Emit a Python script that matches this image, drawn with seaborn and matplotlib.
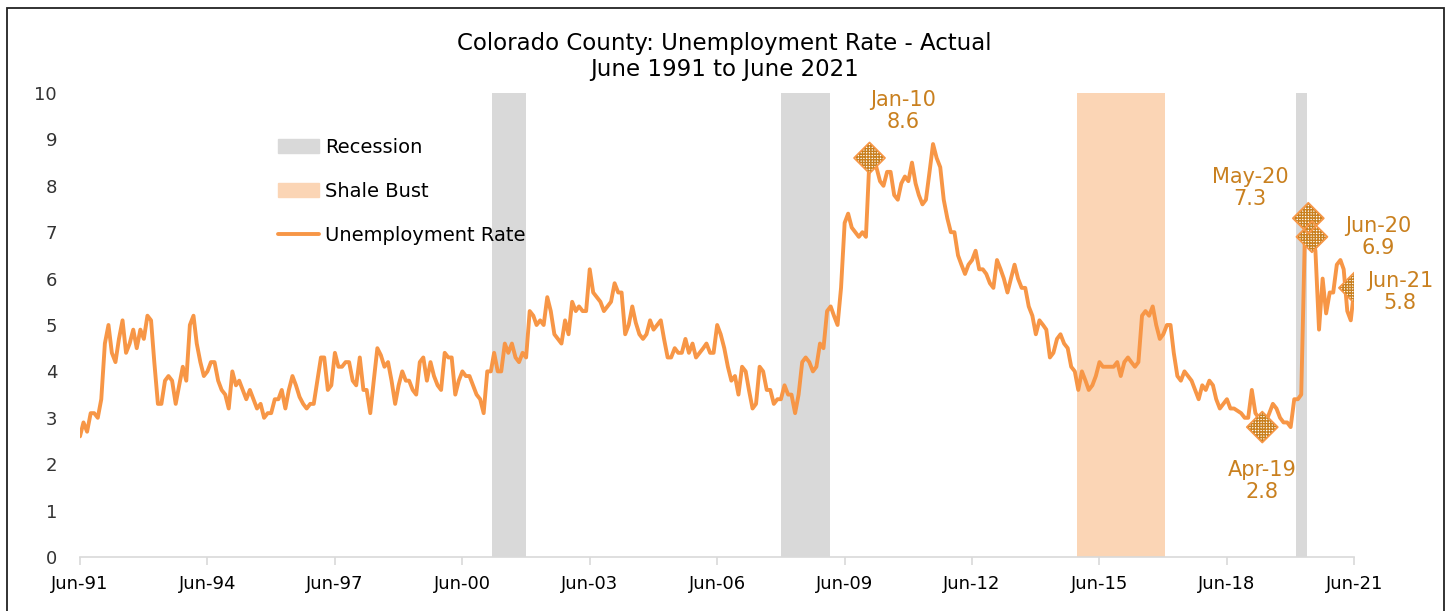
import matplotlib
matplotlib.use("Agg")
import matplotlib.pyplot as plt
import matplotlib.dates as mdates
from matplotlib.patches import Patch, Rectangle
from matplotlib.lines import Line2D
import seaborn as sns
import pandas as pd

# monthly unemployment rate, Jun-91 .. Jun-21 (one row per Jun..May year)
rate = [
    2.6, 2.9, 2.7, 3.1, 3.1, 3.0, 3.4, 4.6, 5.0, 4.4, 4.2, 4.7,
    5.1, 4.4, 4.6, 4.9, 4.5, 4.9, 4.7, 5.2, 5.1, 4.2, 3.3, 3.3,
    3.8, 3.9, 3.8, 3.3, 3.7, 4.1, 3.8, 5.0, 5.2, 4.6, 4.2, 3.9,
    4.0, 4.2, 4.2, 3.8, 3.6, 3.5, 3.2, 4.0, 3.7, 3.8, 3.6, 3.4,
    3.6, 3.4, 3.2, 3.3, 3.0, 3.1, 3.1, 3.4, 3.4, 3.6, 3.2, 3.6,
    3.9, 3.7, 3.45, 3.3, 3.2, 3.3, 3.3, 3.8, 4.3, 4.3, 3.6, 3.7,
    4.4, 4.1, 4.1, 4.2, 4.2, 3.8, 3.7, 4.3, 3.6, 3.6, 3.1, 3.8,
    4.5, 4.35, 4.1, 4.2, 3.8, 3.3, 3.7, 4.0, 3.8, 3.8, 3.6, 3.5,
    4.2, 4.3, 3.8, 4.2, 3.9, 3.7, 3.6, 4.4, 4.3, 4.3, 3.5, 3.8,
    4.0, 3.9, 3.9, 3.7, 3.5, 3.4, 3.1, 4.0, 4.0, 4.4, 4.0, 4.0,
    4.6, 4.4, 4.6, 4.3, 4.2, 4.4, 4.3, 5.3, 5.2, 5.0, 5.1, 5.0,
    5.6, 5.3, 4.8, 4.7, 4.6, 5.1, 4.8, 5.5, 5.3, 5.4, 5.3, 5.3,
    6.2, 5.7, 5.6, 5.5, 5.3, 5.4, 5.5, 5.9, 5.7, 5.7, 4.8, 5.0,
    5.4, 5.05, 4.8, 4.7, 4.8, 5.1, 4.9, 5.0, 5.1, 4.7, 4.3, 4.3,
    4.5, 4.4, 4.4, 4.7, 4.4, 4.6, 4.3, 4.4, 4.5, 4.6, 4.4, 4.4,
    5.0, 4.8, 4.5, 4.1, 3.8, 3.9, 3.5, 4.1, 4.0, 3.6, 3.2, 3.3,
    4.1, 4.0, 3.6, 3.6, 3.3, 3.4, 3.4, 3.7, 3.5, 3.5, 3.1, 3.5,
    4.2, 4.3, 4.2, 4.0, 4.1, 4.6, 4.5, 5.3, 5.4, 5.2, 5.0, 5.8,
    7.2, 7.4, 7.1, 7.0, 6.9, 7.0, 6.9, 8.6, 8.5, 8.4, 8.1, 8.0,
    8.3, 8.3, 7.8, 7.7, 8.05, 8.2, 8.1, 8.5, 8.05, 7.8, 7.6, 7.7,
    8.3, 8.9, 8.6, 8.4, 7.7, 7.3, 7.0, 7.0, 6.5, 6.3, 6.1, 6.3,
    6.4, 6.6, 6.2, 6.2, 6.1, 5.9, 5.8, 6.4, 6.2, 6.0, 5.7, 6.0,
    6.3, 6.0, 5.8, 5.8, 5.4, 5.2, 4.8, 5.1, 5.0, 4.9, 4.3, 4.4,
    4.7, 4.8, 4.6, 4.5, 4.1, 4.0, 3.6, 4.0, 3.8, 3.6, 3.7, 3.9,
    4.2, 4.1, 4.1, 4.1, 4.1, 4.2, 3.9, 4.2, 4.3, 4.2, 4.1, 4.2,
    5.2, 5.3, 5.2, 5.4, 5.0, 4.7, 4.8, 5.0, 5.0, 4.4, 3.9, 3.8,
    4.0, 3.9, 3.8, 3.6, 3.4, 3.7, 3.6, 3.8, 3.7, 3.4, 3.2, 3.3,
    3.4, 3.2, 3.2, 3.15, 3.1, 3.0, 3.0, 3.6, 3.1, 3.0, 2.8, 2.9,
    3.1, 3.3, 3.2, 3.0, 2.9, 2.9, 2.8, 3.4, 3.4, 3.5, 6.9, 7.3,
    6.9, 6.6, 4.9, 6.0, 5.25, 5.7, 5.7, 6.3, 6.4, 6.2, 5.3, 5.1, 5.8,
]
months = pd.date_range("1991-06-01", "2021-06-01", freq="MS")

recessions = [("2001-02-15", "2001-11-26"), ("2007-12-01", "2009-01-25"), ("2020-01-20", "2020-04-20")]
shale_bust = [("2014-11-22", "2016-12-18")]

callout_dates = ["2010-01-01", "2019-04-01", "2020-05-01", "2020-06-01", "2021-06-01"]
callout_labels = ["Jan-10\n8.6", "Apr-19\n2.8", "May-20\n7.3", "Jun-20\n6.9", "Jun-21\n5.8"]
callout_offsets = [(24, 34), (0, -39), (-42, 22), (48, 0), (33, -3)]

line_color = "#f79646"
label_color = "#c9801f"

df = pd.DataFrame({"month": months, "rate": rate})

sns.set_style("white")
plt.rcParams["font.family"] = ["DejaVu Sans"]
plt.rcParams["text.color"] = "black"

fig = plt.figure(figsize=(14.49, 6.11), dpi=100)
ax = fig.add_axes([0.0552, 0.0884, 0.8795, 0.7594])

for a, b in recessions:
    ax.axvspan(pd.Timestamp(a), pd.Timestamp(b), color="#d9d9d9", lw=0, zorder=0)
for a, b in shale_bust:
    ax.axvspan(pd.Timestamp(a), pd.Timestamp(b), color="#fbd5b5", lw=0, zorder=0)

sns.lineplot(data=df, x="month", y="rate", ax=ax, color=line_color, linewidth=2.8, zorder=3)

pts = df.set_index("month").loc[pd.to_datetime(callout_dates), "rate"]
ax.scatter(pts.index, pts.values, marker="D", s=250, facecolor="white",
           edgecolor="#c9801f", hatch="++++++", linewidth=0, zorder=4)
ax.scatter(pts.index, pts.values, marker="D", s=250, facecolor="none",
           edgecolor=line_color, linewidth=1.2, zorder=5)
for d, v, lab, off in zip(pts.index, pts.values, callout_labels, callout_offsets):
    ax.annotate(lab, (d, v), xytext=off, textcoords="offset points", ha="center",
                va="center", fontsize=15, color=label_color, linespacing=1.1)

ax.set_xlim(months[0], months[-1])
ax.set_ylim(0, 10)
ax.set_yticks(range(0, 11))
ax.set_xticks(months[::36])
ax.xaxis.set_major_formatter(mdates.DateFormatter("%b-%y"))
ax.set_xlabel("")
ax.set_ylabel("")

for s in ["top", "right", "left"]:
    ax.spines[s].set_visible(False)
ax.spines["bottom"].set_color("#d9d9d9")
ax.spines["bottom"].set_linewidth(1.2)
ax.tick_params(axis="x", bottom=True, length=6, width=1.2, color="#d9d9d9",
               labelsize=13, labelcolor="black", pad=7)
ax.tick_params(axis="y", left=False, labelsize=13, labelcolor="#333333", pad=13)

handles = [Patch(color="#d9d9d9"), Patch(color="#fbd5b5"), Line2D([], [], color=line_color, lw=2.8)]
ax.legend(handles, ["Recession", "Shale Bust", "Unemployment Rate"], loc="upper left",
          bbox_to_anchor=(0.148, 0.925), frameon=False, fontsize=14, borderpad=0,
          handlelength=2.1, handletextpad=0.3, labelspacing=1.3, labelcolor="black")

fig.text(0.5, 0.907, "Colorado County: Unemployment Rate - Actual\nJune 1991 to June 2021",
         ha="center", va="center", fontsize=16.5, linespacing=1.15, color="black")

fig.patches.append(Rectangle((7 / 1449, -0.01), 1437 / 1449, (611 - 8) / 611 + 0.01,
                             transform=fig.transFigure, fill=False, edgecolor="#222222", lw=1.3))

fig.savefig("out.png", dpi=100)
